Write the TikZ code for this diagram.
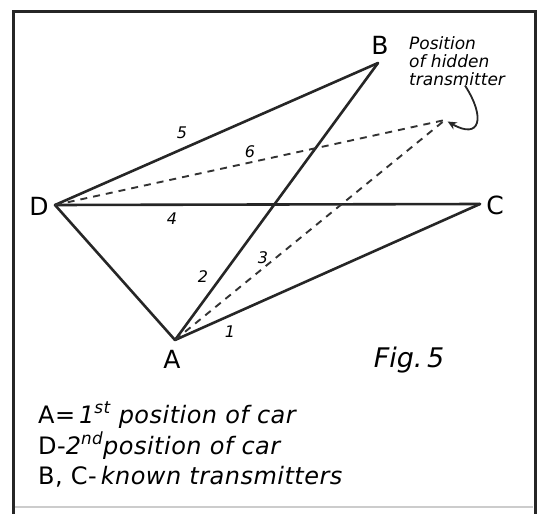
\documentclass[tikz,border=0pt]{standalone}
\usepackage{fontspec}
\setmainfont{DejaVu Sans}
\newfontfamily\handfont[LetterSpace=2]{DejaVu Sans}
\usetikzlibrary{arrows.meta, positioning, calc}
\tikzset{
  framebox/.style={draw=black!85, line width=3pt},
  ray/.style={draw=black!85, line width=2.6pt, line cap=round},
  bearing/.style={draw=black!80, line width=1.9pt, dash pattern=on 7pt off 6pt},
  ptlabel/.style={font=\fontsize{25}{25}\selectfont, inner sep=0pt},
  numlabel/.style={font=\fontsize{16}{16}\selectfont\itshape, inner sep=0pt},
  hidlabel/.style={font=\fontsize{17}{18}\selectfont\itshape, align=left, inner sep=0pt},
  legend/.style={font=\fontsize{24}{30}\selectfont\handfont, inner sep=0pt, anchor=base west},
  curl/.style={-{Stealth[length=9pt, width=8pt]}, draw=black!85, line width=1.8pt, shorten >=3pt}
}

\begin{document}
\begin{tikzpicture}[x=1pt, y=-1pt]
\useasboundingbox (0,0) rectangle (547,514);

% Frame
\draw[framebox] (13,514) -- (13,11) -- (535,11) -- (535,514);
\draw[gray!40, line width=1.2pt] (15,507) -- (533,507);

% Positions
\coordinate (A) at (175,340);
\coordinate (B) at (378,63);
\coordinate (C) at (480,204);
\coordinate (D) at (55,205);
\coordinate (H) at (445,120);

% Point letters
\node[ptlabel] (labA) at (172,359) {A};
\node[ptlabel] (labB) at (380,45) {B};
\node[ptlabel] (labC) at (495,205) {C};
\node[ptlabel] (labD) at (39,206) {D};

% Bearing lines
\draw[ray] (D) -- (B);
\draw[ray] (D) -- (C);
\draw[ray] (D) -- (A);
\draw[ray] (A) -- (B);
\draw[ray] (A) -- (C);
\draw[bearing] (D) -- (H);
\draw[bearing] (A) -- (H);

% Line numbers
\node[numlabel] (n1) at (230,332) {1};
\node[numlabel] (n2) at (203,277) {2};
\node[numlabel] (n3) at (263,258) {3};
\node[numlabel] (n4) at (172,219) {4};
\node[numlabel] (n5) at (182,133) {5};
\node[numlabel] (n6) at (250,152) {6};

% Hidden transmitter note
\node[hidlabel, anchor=north west] (hidtxt) at (409,36) {Position\\of hidden\\transmitter};
\coordinate (curlstart) at (hidtxt.south -| 465,0);
\draw[curl] (curlstart) .. controls (486,118) and (480,140) .. (H);

\node[font=\fontsize{27}{27}\selectfont\itshape, inner sep=0pt] (fig) at (409,360) {Fig.\,5};

% Legend
\node[legend] (leg1) at (38,423) {A=\,\textit{1\textsuperscript{st} position of car}};
\node[legend] (leg2) at (38,454) {D-\textit{2\textsuperscript{nd}position of car}};
\node[legend] (leg3) at (38,484) {B, C-\,\textit{known transmitters}};

\end{tikzpicture}
\end{document}
